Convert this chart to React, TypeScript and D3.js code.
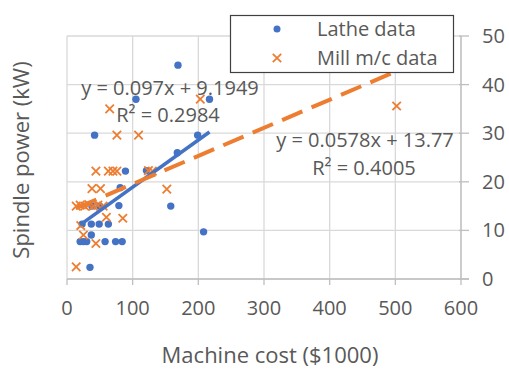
import React from "react";
import * as d3 from "d3";

const latheX = [169, 105, 217, 42, 199, 168, 89, 121, 81, 38, 50, 79, 158, 23, 37, 49, 63, 37, 20, 25, 30, 58, 74, 84, 208, 35];
const latheY = [44, 37, 37, 29.6, 29.6, 26, 22.2, 22.3, 18.8, 15, 15, 15.1, 15, 11.3, 11.3, 11.3, 11.3, 9.05, 7.7, 7.7, 7.7, 7.7, 7.7, 7.7, 9.7, 2.4];

const millX = [502, 203, 65, 76, 109, 44, 63, 70, 76, 124, 130, 38, 51, 152, 14, 20, 27, 33, 40, 47, 55, 60, 85, 21, 25, 44, 14];
const millY = [35.6, 37, 35, 29.6, 29.6, 22.2, 22.2, 22.2, 22.2, 22.3, 22.2, 18.6, 18.6, 18.5, 15, 15.2, 15, 15.3, 15, 15.2, 15, 12.7, 12.5, 11, 9.05, 7.3, 2.5];

const latheFit = { slope: 0.097, intercept: 9.1949, eq: "y = 0.097x + 9.1949", r2: "R² = 0.2984" };
const millFit = { slope: 0.0578, intercept: 13.77, eq: "y = 0.0578x + 13.77", r2: "R² = 0.4005" };

const xTicks = [0, 100, 200, 300, 400, 500, 600];
const yTicks = [0, 10, 20, 30, 40, 50];

const BLUE = "#4472C4";
const ORANGE = "#ED7D31";
const TEXT = "#595959";
const FONT = "'Open Sans', sans-serif";

export default function App() {
  const x = d3.scaleLinear().domain([0, 600]).range([67, 461]);
  const y = d3.scaleLinear().domain([0, 50]).range([279, 36]);

  const lxMin = d3.min(latheX)!, lxMax = d3.max(latheX)!;
  const mxMin = d3.min(millX)!, mxMax = d3.max(millX)!;
  const line = d3.line<number[]>().x((d) => x(d[0])).y((d) => y(d[1]));
  const latheLine = line([
    [lxMin, latheFit.intercept + latheFit.slope * lxMin],
    [lxMax, latheFit.intercept + latheFit.slope * lxMax],
  ]);
  const millLine = line([
    [mxMin, millFit.intercept + millFit.slope * mxMin],
    [mxMax, millFit.intercept + millFit.slope * mxMax],
  ]);

  const cross = (cx: number, cy: number, k: string | number) => (
    <path
      key={k}
      d={`M${cx - 4.2},${cy - 4.2}L${cx + 4.2},${cy + 4.2}M${cx - 4.2},${cy + 4.2}L${cx + 4.2},${cy - 4.2}`}
      stroke={ORANGE}
      strokeWidth={1.8}
      fill="none"
    />
  );

  return (
    <svg
      width={509}
      height={369}
      style={{ position: "absolute", left: 0, top: 0, background: "#fff" }}
      fontFamily={FONT}
    >
      <rect width={509} height={369} fill="#fff" />
      {/* gridlines */}
      {xTicks.map((t) => (
        <line key={"gx" + t} x1={x(t)} x2={x(t)} y1={y(50)} y2={y(0)} stroke="#D9D9D9" strokeWidth={1.3} />
      ))}
      {yTicks.map((t) => (
        <line key={"gy" + t} x1={x(0)} x2={x(600)} y1={y(t)} y2={y(t)} stroke="#D9D9D9" strokeWidth={1.3} />
      ))}
      {/* x axis */}
      <line x1={x(0)} x2={x(600) + 8} y1={y(0)} y2={y(0)} stroke="#BFBFBF" strokeWidth={1.3} />
      {xTicks.map((t) => (
        <g key={"xt" + t}>
          <line x1={x(t)} x2={x(t)} y1={y(0)} y2={y(0) + 6} stroke="#BFBFBF" strokeWidth={1.3} />
          <text x={x(t)} y={315} textAnchor="middle" fontSize={20} fill={TEXT}>
            {t}
          </text>
        </g>
      ))}
      {/* right y axis */}
      <line x1={x(600)} x2={x(600)} y1={y(50)} y2={y(0)} stroke="#BFBFBF" strokeWidth={1.3} />
      {yTicks.map((t) => (
        <g key={"yt" + t}>
          <line x1={x(600) - 2} x2={x(600) + 8} y1={y(t)} y2={y(t)} stroke="#BFBFBF" strokeWidth={1.3} />
          <text x={482} y={y(t) + 7} fontSize={20} fill={TEXT}>
            {t}
          </text>
        </g>
      ))}
      {/* points */}
      {latheX.map((v, i) => (
        <circle key={"l" + i} cx={x(v)} cy={y(latheY[i])} r={3.7} fill={BLUE} />
      ))}
      {millX.map((v, i) => cross(x(v), y(millY[i]), "m" + i))}
      {/* trendlines */}
      <path d={latheLine!} stroke={BLUE} strokeWidth={3.5} fill="none" />
      <path d={millLine!} stroke={ORANGE} strokeWidth={4} fill="none" strokeDasharray="22 10" />
      {/* equation labels */}
      <text x={170} y={95} textAnchor="middle" fontSize={20} fill={TEXT}>{latheFit.eq}</text>
      <text x={168} y={122} textAnchor="middle" fontSize={20} fill={TEXT}>{latheFit.r2}</text>
      <text x={365} y={147} textAnchor="middle" fontSize={20} fill={TEXT}>{millFit.eq}</text>
      <text x={364} y={175} textAnchor="middle" fontSize={20} fill={TEXT}>{millFit.r2}</text>
      {/* legend */}
      <rect x={230.5} y={15.5} width={223} height={57} fill="#fff" stroke="#404040" strokeWidth={1.2} />
      <circle cx={277} cy={29} r={3.5} fill={BLUE} />
      <text x={317} y={36} fontSize={20} fill={TEXT}>Lathe data</text>
      {cross(277, 58, "lg")}
      <text x={317} y={65} fontSize={20} fill={TEXT}>Mill m/c data</text>
      {/* axis titles */}
      <text x={270} y={363} textAnchor="middle" fontSize={22} fill={TEXT}>Machine cost ($1000)</text>
      <text transform={`translate(29,160) rotate(-90)`} textAnchor="middle" fontSize={22} fill={TEXT}>
        Spindle power (kW)
      </text>
    </svg>
  );
}
